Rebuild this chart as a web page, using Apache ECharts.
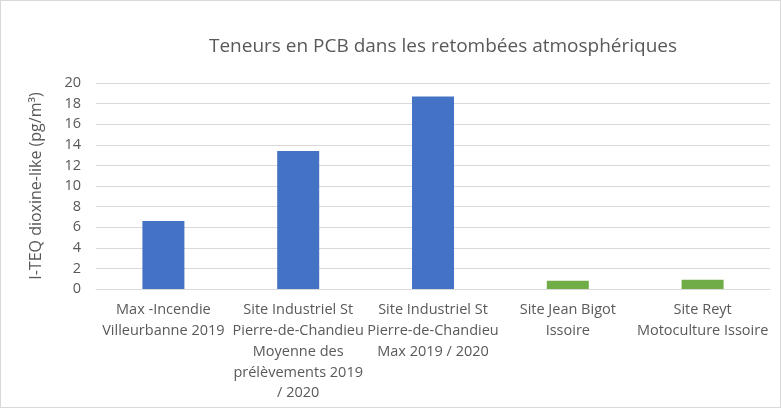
<!DOCTYPE html>
<html>
<head>
<meta charset="utf-8">
<script src="https://cdn.jsdelivr.net/npm/echarts@6/dist/echarts.min.js"></script>
<style>
  html, body { margin: 0; padding: 0; background: #fff; }
  #chart { width: 779px; height: 406px; border: 1px solid #d9d9d9; }
</style>
</head>
<body>
<div id="chart"></div>
<script>
const categories = [
    'Max -Incendie\nVilleurbanne 2019',
    'Site Industriel St\nPierre-de-Chandieu\nMoyenne des\nprélèvements 2019\n/ 2020',
    'Site Industriel St\nPierre-de-Chandieu\nMax 2019 / 2020',
    'Site Jean Bigot\nIssoire',
    'Site Reyt\nMotoculture Issoire'
]
const values = [6.6, 13.4, 18.7, 0.8, 0.9]
const sites = ['lyon', 'lyon', 'lyon', 'issoire', 'issoire']
const yTicks = { min: 0, max: 20, interval: 2 }

const siteColor = { lyon: '#4472C4', issoire: '#70AD47' }
const textColor = '#595959'
const font = "'Open Sans', sans-serif"

const chart = echarts.init(document.getElementById('chart'))
chart.setOption({
    animation: false,
    title: {
        text: 'Teneurs en PCB dans les retombées atmosphériques',
        left: 437,
        textAlign: 'center',
        top: 31,
        textStyle: { fontFamily: font, fontSize: 19, fontWeight: 'normal', color: textColor }
    },
    grid: { left: 95, right: 10, top: 82, bottom: 118 },
    xAxis: {
        type: 'category',
        data: categories,
        axisTick: { show: false },
        axisLine: { lineStyle: { color: '#d9d9d9' } },
        axisLabel: {
            interval: 0,
            margin: 11,
            color: textColor,
            fontFamily: font,
            fontSize: 14.5,
            lineHeight: 20.7
        }
    },
    yAxis: {
        type: 'value',
        min: yTicks.min,
        max: yTicks.max,
        interval: yTicks.interval,
        name: 'I-TEQ dioxine-like (pg/m³)',
        nameLocation: 'middle',
        nameGap: 52,
        nameTextStyle: { color: textColor, fontFamily: font, fontSize: 16 },
        axisLabel: { color: textColor, fontFamily: font, fontSize: 14.5, margin: 15 },
        splitLine: { lineStyle: { color: '#d9d9d9' } }
    },
    series: [
        {
            type: 'bar',
            barWidth: 42,
            data: values.map((v, i) => ({
                value: v,
                itemStyle: { color: siteColor[sites[i]] }
            }))
        }
    ]
})
</script>
</body>
</html>
